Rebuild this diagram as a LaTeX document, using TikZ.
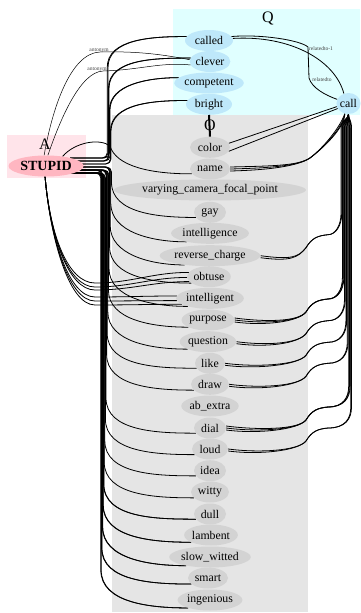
\documentclass[tikz,border=0pt]{standalone}
\usepackage{fontspec}
\setmainfont{Liberation Serif}
\usetikzlibrary{shapes.geometric,calc}
\pgfdeclarelayer{bg}
\pgfdeclarelayer{edges}
\pgfsetlayers{bg,edges,main}
\definecolor{qbg}{RGB}{224,255,255}
\definecolor{qnode}{RGB}{190,232,250}
\definecolor{abg}{RGB}{255,228,234}
\definecolor{anode}{RGB}{255,182,193}
\definecolor{obg}{RGB}{229,229,229}
\definecolor{onode}{RGB}{211,211,211}
\begin{document}
\begin{tikzpicture}[x=1pt,y=-1pt,
  nd/.style={ellipse, inner sep=0pt, minimum height=21pt, minimum width=#1, font=\fontsize{11.8}{12}\selectfont},
  qn/.style={nd=#1, fill=qnode},
  on/.style={nd=#1, fill=onode},
  ed/.style={line width=0.8pt},
  elab/.style={font=\fontsize{5.5}{6}\selectfont, text=black!75, inner sep=0.5pt},
  ctitle/.style={font=\fontsize{16}{16}\selectfont, inner sep=0pt}]
\useasboundingbox (0,0) rectangle (360,613);

% clusters
\begin{pgfonlayer}{bg}
\fill[qbg] (173,9) rectangle (360,115);
\fill[obg] (112,115) rectangle (308,612);
\fill[abg] (7,135) rectangle (86,178);
\end{pgfonlayer}
\node[ctitle] (qt) at (268,18) {Q};
\node[ctitle] (at) at (45,144) {A};
\node[ctitle] (ot) at (210,125) {O};

% Q nodes
\node[qn=48] (called) at (209,40.5) {called};
\node[qn=40] (clever) at (210,61.5) {clever};
\node[qn=68] (competent) at (209,83) {competent};
\node[qn=46] (bright) at (209,104.3) {bright};
\node[qn=24] (call) at (348.5,103.5) {call};
% A node
\node[nd=75, fill=anode, font=\fontsize{14}{15}\selectfont\bfseries] (S) at (46,166) {STUPID};
% O nodes
\node[on=40] (color) at (210,147.3) {color};
\node[on=40] (name) at (210,169) {name};
\node[on=10] (varying) at (210,190) {varying\_camera\_focal\_point};
\node[on=32] (gay) at (210,212.3) {gay};
\node[on=10] (intelligence) at (210,233.3) {intelligence};
\node[on=10] (reverse) at (210,255.7) {reverse\_charge};
\node[on=40] (obtuse) at (209,276.7) {obtuse};
\node[on=10] (intelligent) at (210,298.3) {intelligent};
\node[on=52] (purpose) at (208,320) {purpose};
\node[on=10] (question) at (208,341.7) {question};
\node[on=30] (like) at (210,363.3) {like};
\node[on=38] (draw) at (210,384.3) {draw};
\node[on=10] (abextra) at (210,406) {ab\_extra};
\node[on=32] (dial) at (210,428) {dial};
\node[on=36] (loud) at (210,449) {loud};
\node[on=32] (idea) at (210,470.7) {idea};
\node[on=38] (witty) at (210,492) {witty};
\node[on=32] (dull) at (210,514) {dull};
\node[on=10] (lambent) at (211,535) {lambent};
\node[on=10] (slow) at (210,557) {slow\_witted};
\node[on=40] (smart) at (208,578) {smart};
\node[on=10] (ingenious) at (210,600) {ingenious};

\begin{pgfonlayer}{edges}
% STUPID -> Q nodes through the left bundle
\foreach \t/\yy/\xb/\ys in {called/40.5/108/158, called/40.5/107.2/158, clever/61.5/109/161, clever/61.5/108.4/161, competent/83/110/161, competent/83/109.4/158, bright/104.3/111/164, bright/104.3/110.4/164}
  \draw[ed,rounded corners=5pt] (70,\ys) -- (\xb,\ys) -- (\xb,\yy+32) to[out=90,in=180] (\t.170);
% STUPID -> O nodes through the left bundle
\foreach \t/\yy/\xb/\ys in {gay/212.3/111.5/167, intelligence/233.3/110.8/167, reverse/255.7/110.2/167, obtuse/276.7/109.6/167, intelligent/298.3/109/170, purpose/320/108.4/170, question/341.7/107.8/170, like/363.3/107.2/170, draw/384.3/106.6/170, dial/428/106/170, loud/449/105.4/173, idea/470.7/104.8/173, witty/492/104.2/173, dull/514/103.6/173, lambent/535/103/173, slow/557/102.4/173, smart/578/101.6/173, ingenious/600/100.8/173, smart/578/102/170, ingenious/600/101.2/170, slow/557/102.8/170, lambent/535/103.3/173, dull/514/103.9/173}
  \draw[ed,rounded corners=5pt] (70,\ys) -- (\xb,\ys) -- (\xb,\yy-35) to[out=-90,in=180] (\t.200);
% STUPID -> name
\draw[ed] (S.30) .. controls (75,142) and (100,138) .. (110,146) .. controls (116,166) and (150,174) .. (name.195);
% STUPID -> obtuse / intelligent from below
\foreach \ys/\t/\an in {283/obtuse/168, 287/obtuse/182, 290/obtuse/194, 297/intelligent/176, 301/intelligent/184, 305/intelligent/192}
  \draw[ed] (S.265) .. controls (50,235) and (68,\ys) .. (95,\ys) to[out=0,in=180] (\t.\an);
% antonym edges
\draw[line width=0.5pt] (S.100) .. controls (52,110) and (70,53) .. (100,52) .. controls (140,51) and (165,55) .. (clever.175);
\draw[line width=0.5pt] (S.80) .. controls (60,120) and (80,72) .. (103,71) .. controls (140,70) and (160,62) .. (clever.190);
% called -> call
\draw[ed] (called.10) .. controls (260,34) and (300,40) .. (308,47) -- (309,78) .. controls (312,88) and (325,95) .. (call.160);
\draw[ed] (called.5) .. controls (290,35) and (335,60) .. (call.115);
% call -> color / name
\draw[ed] (call.195) -- (color.12);
\draw[ed] (call.205) -- (color.-12);
\foreach \o/\xa in {0/340, 2/343, -2/345}
  \draw[ed] ($(name.east)+(0,\o)$) .. controls (270,168+\o) and (298,166) .. (310,158) .. controls (322,149) and (\xa,128) .. (call.250);
% call -> lower O nodes through the right bundle
\foreach \t/\yy/\o/\xb in {reverse/255.7/0/341, reverse/255.7/2/341.7, purpose/320/0/342.4, purpose/320/2/343.1, purpose/320/-2/343.8, question/341.7/0/344.5, question/341.7/2/345.2, like/363.3/0/345.9, like/363.3/2/346.6, draw/384.3/0/347.3, draw/384.3/2/348, dial/428/0/348.7, dial/428/2/349.4, dial/428/-2/350.1, loud/449/0/350.8, loud/449/2/351.5}
  \draw[ed] ($(\t.east)+(0,\o)$) .. controls +(30,4) and (298,\yy+2) .. (306,\yy-8) .. controls (312,\yy-18) and (318,\yy-20) .. (328,\yy-21) .. controls (\xb-6,\yy-21) and (\xb,\yy-30) .. (\xb,\yy-42) -- (\xb,128) .. controls (\xb,120) and (348.5,119) .. (call.south);
\end{pgfonlayer}
% bright -> color
\draw[line width=2pt] (bright.south) -- (color.north);
% edge labels
\node[elab] (l1) at (99,51) {antonym};
\node[elab] (l2) at (97,70) {antonym};
\node[elab] (l3) at (321,49) {relatedto-1};
\node[elab] (l4) at (322,80) {relatedto};
\end{tikzpicture}
\end{document}
